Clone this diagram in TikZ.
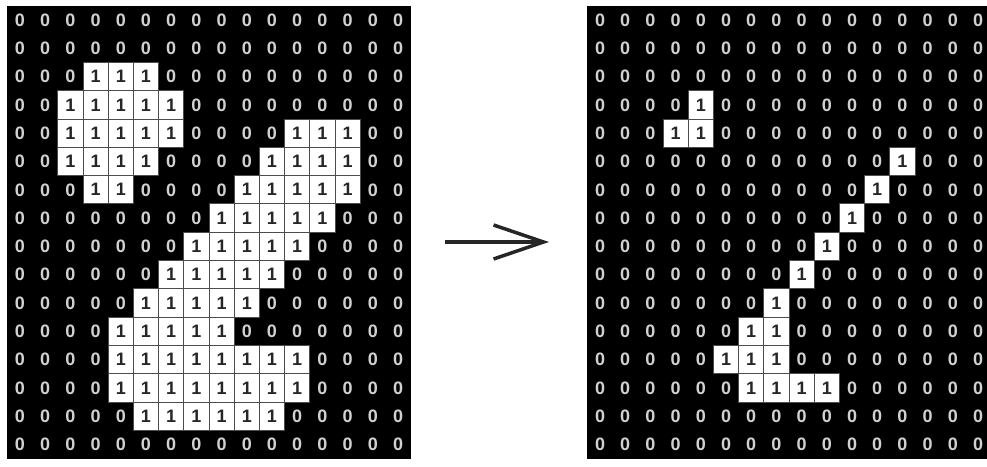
\documentclass[tikz,border=0pt]{standalone}
\usepackage{fontspec}
\setmainfont{Liberation Sans}
\usetikzlibrary{arrows.meta}

\begin{document}
\begin{tikzpicture}[x=1pt,y=-1pt,
  bit/.style={minimum width=25.2pt,minimum height=28.3pt,inner sep=0pt,font=\fontsize{18}{18}\selectfont\bfseries},
  cell0/.style={bit,text=white!82!black},
  cell1/.style={bit,fill=white,draw=black!70,line width=1pt,text=black!85}]
\useasboundingbox (0,0) rectangle (987,466);

% binary image before thinning
\begin{scope}
\fill[black] (7.4,5.9) rectangle (410.6,458.7);
\foreach \row [count=\r from 0] in {
  {0,0,0,0,0,0,0,0,0,0,0,0,0,0,0,0},
  {0,0,0,0,0,0,0,0,0,0,0,0,0,0,0,0},
  {0,0,0,1,1,1,0,0,0,0,0,0,0,0,0,0},
  {0,0,1,1,1,1,1,0,0,0,0,0,0,0,0,0},
  {0,0,1,1,1,1,1,0,0,0,0,1,1,1,0,0},
  {0,0,1,1,1,1,0,0,0,0,1,1,1,1,0,0},
  {0,0,0,1,1,0,0,0,0,1,1,1,1,1,0,0},
  {0,0,0,0,0,0,0,0,1,1,1,1,1,0,0,0},
  {0,0,0,0,0,0,0,1,1,1,1,1,0,0,0,0},
  {0,0,0,0,0,0,1,1,1,1,1,0,0,0,0,0},
  {0,0,0,0,0,1,1,1,1,1,0,0,0,0,0,0},
  {0,0,0,0,1,1,1,1,1,0,0,0,0,0,0,0},
  {0,0,0,0,1,1,1,1,1,1,1,1,0,0,0,0},
  {0,0,0,0,1,1,1,1,1,1,1,1,0,0,0,0},
  {0,0,0,0,0,1,1,1,1,1,1,0,0,0,0,0},
  {0,0,0,0,0,0,0,0,0,0,0,0,0,0,0,0}}
  \foreach \v [count=\c from 0] in \row
    \node[cell\v] (L-\r-\c) at ({20+25.2*\c},{20+28.3*\r}) {\v};
\end{scope}

% skeleton after thinning
\begin{scope}[xshift=580pt]
\fill[black] (7.4,5.9) rectangle (410.6,458.7);
\foreach \row [count=\r from 0] in {
  {0,0,0,0,0,0,0,0,0,0,0,0,0,0,0,0},
  {0,0,0,0,0,0,0,0,0,0,0,0,0,0,0,0},
  {0,0,0,0,0,0,0,0,0,0,0,0,0,0,0,0},
  {0,0,0,0,1,0,0,0,0,0,0,0,0,0,0,0},
  {0,0,0,1,1,0,0,0,0,0,0,0,0,0,0,0},
  {0,0,0,0,0,0,0,0,0,0,0,0,1,0,0,0},
  {0,0,0,0,0,0,0,0,0,0,0,1,0,0,0,0},
  {0,0,0,0,0,0,0,0,0,0,1,0,0,0,0,0},
  {0,0,0,0,0,0,0,0,0,1,0,0,0,0,0,0},
  {0,0,0,0,0,0,0,0,1,0,0,0,0,0,0,0},
  {0,0,0,0,0,0,0,1,0,0,0,0,0,0,0,0},
  {0,0,0,0,0,0,1,1,0,0,0,0,0,0,0,0},
  {0,0,0,0,0,1,1,1,0,0,0,0,0,0,0,0},
  {0,0,0,0,0,0,1,1,1,1,0,0,0,0,0,0},
  {0,0,0,0,0,0,0,0,0,0,0,0,0,0,0,0},
  {0,0,0,0,0,0,0,0,0,0,0,0,0,0,0,0}}
  \foreach \v [count=\c from 0] in \row
    \node[cell\v] (R-\r-\c) at ({20+25.2*\c},{20+28.3*\r}) {\v};
\end{scope}

\coordinate (arrow-tail) at (445,242);
\coordinate (arrow-tip) at (549,242);
\draw[black!85,line width=3.5pt,-{Straight Barb[length=50pt,width=34pt]}] (arrow-tail) -- (arrow-tip);

\end{tikzpicture}
\end{document}
